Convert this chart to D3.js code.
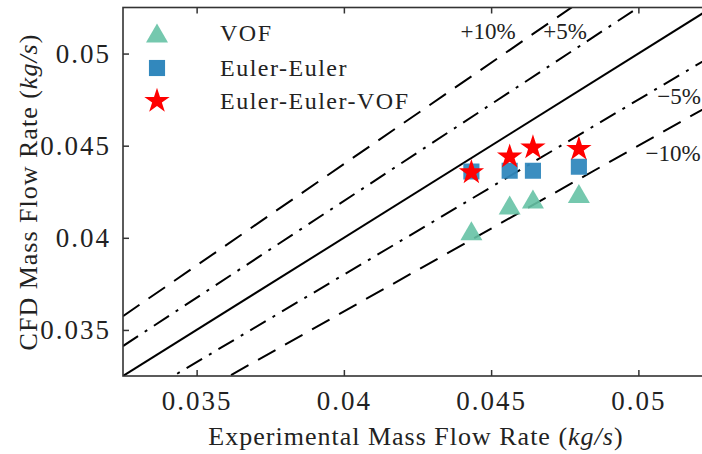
<!DOCTYPE html>
<html>
<head>
<meta charset="utf-8">
<script src="https://cdn.jsdelivr.net/npm/d3@7"></script>
<style>
  body { margin: 0; background: #fff; }
  text { font-family: "Liberation Serif", "DejaVu Serif", serif; fill: #222; }
</style>
</head>
<body>
<svg id="chart" width="702" height="454"></svg>
<script>
// experimental mass flow rate (kg/s)
var expRate = [0.04433, 0.04563, 0.04642, 0.04798];
// CFD results
var vofRate = [0.04038, 0.04178, 0.04210, 0.04241];
var eeRate = [0.04360, 0.04364, 0.04364, 0.04386];
var eevofRate = [0.04355, 0.04440, 0.04490, 0.04482];

var seriesNames = ["VOF", "Euler-Euler", "Euler-Euler-VOF"];
var xTicks = [0.035, 0.04, 0.045, 0.05];
var yTicks = [0.035, 0.04, 0.045, 0.05];
var errLevels = [0.10, 0.05, 0, -0.05, -0.10];
var errLabels = ["+10%", "+5%", "", "\u22125%", "\u221210%"];

var pL = 123, pT = 7.5, pB = 376, pR = 712;
var x = d3.scaleLinear().domain([0.0325, 0.0525]).range([pL, pR]);
var y = d3.scaleLinear().domain([0.0325, 0.0525]).range([pB, pT]);

var svg = d3.select("#chart");

svg.append("clipPath").attr("id", "clip")
  .append("rect")
  .attr("x", pL).attr("y", pT)
  .attr("width", pR - pL).attr("height", pB - pT);

// parity lines
var plot = svg.append("g").attr("clip-path", "url(#clip)");
var dashFor = function(e) {
  if (e === 0) return null;
  if (Math.abs(e) > 0.07) return "20,11";
  return "18,8,3,8";
};
plot.selectAll("line.err")
  .data(errLevels)
  .join("line")
  .classed("err", true)
  .attr("x1", x(0.0325))
  .attr("y1", d => y(0.0325 * (1 + d)))
  .attr("x2", x(0.0525))
  .attr("y2", d => y(0.0525 * (1 + d)))
  .style("stroke", "#000")
  .style("stroke-width", "2px")
  .style("stroke-dasharray", d => dashFor(d));

// markers
var sqSym = d3.symbol().type(d3.symbolSquare).size(260);
var starSym = d3.symbol().type(d3.symbolStar).size(200);
var triPath = function() {
  // matplotlib style triangle, centred on bbox
  var w = 11, h = 9.5;
  return "M0," + (-h) + "L" + w + "," + h + "L" + (-w) + "," + h + "Z";
};

plot.selectAll("path.vof")
  .data(expRate)
  .join("path")
  .classed("vof", true)
  .attr("d", triPath())
  .attr("transform", (d, i) => "translate(" + x(d) + "," + y(vofRate[i]) + ")")
  .style("fill", "#66c2a5").style("opacity", 0.9);

plot.selectAll("path.ee")
  .data(expRate)
  .join("path")
  .classed("ee", true)
  .attr("d", sqSym())
  .attr("transform", (d, i) => "translate(" + x(d) + "," + y(eeRate[i]) + ")")
  .style("fill", "#3288bd").style("opacity", 0.95);

plot.selectAll("path.eevof")
  .data(expRate)
  .join("path")
  .classed("eevof", true)
  .attr("d", starSym())
  .attr("transform", (d, i) => "translate(" + x(d) + "," + y(eevofRate[i]) + ")")
  .style("fill", "#ff0000");

// error labels
var labelPos = [[488, 39], [565, 39], [679, 104], [673, 161]];
var lbls = errLabels.filter(d => d !== "");
svg.selectAll("text.errlbl")
  .data(lbls)
  .join("text")
  .classed("errlbl", true)
  .attr("x", (d, i) => labelPos[i][0])
  .attr("y", (d, i) => labelPos[i][1])
  .attr("text-anchor", "middle")
  .style("font-size", "23px")
  .text(d => d);

// frame and ticks
svg.append("rect")
  .attr("x", pL).attr("y", pT)
  .attr("width", pR - pL).attr("height", pB - pT)
  .style("fill", "none").style("stroke", "#333").style("stroke-width", "1.6px");

var xb = svg.append("g").attr("transform", "translate(0," + pB + ")")
  .call(d3.axisBottom(x).tickValues(xTicks).tickSizeInner(-6).tickSizeOuter(0).tickPadding(15).tickFormat(d3.format("")));
var xt = svg.append("g").attr("transform", "translate(0," + pT + ")")
  .call(d3.axisTop(x).tickValues(xTicks).tickSizeInner(-6).tickSizeOuter(0).tickFormat(""));
var yl = svg.append("g").attr("transform", "translate(" + pL + ",0)")
  .call(d3.axisLeft(y).tickValues(yTicks).tickSizeInner(-6).tickSizeOuter(0).tickPadding(12).tickFormat(d3.format("")));
[xb, xt, yl].forEach(function(g) {
  g.attr("font-family", null).attr("font-size", null);
  g.select(".domain").remove();
  g.selectAll(".tick line").style("stroke", "#333").style("stroke-width", "1.5px");
  g.selectAll(".tick text").style("font-size", "27px").style("letter-spacing", "2px").style("fill", "#222");
});

// axis titles
var xt1 = svg.append("text")
  .attr("x", 416).attr("y", 445)
  .attr("text-anchor", "middle")
  .style("font-size", "26px").style("letter-spacing", "1px");
xt1.append("tspan").text("Experimental Mass Flow Rate (");
xt1.append("tspan").style("font-style", "italic").text("kg/s");
xt1.append("tspan").text(")");

var yt1 = svg.append("text")
  .attr("transform", "translate(37,192) rotate(-90)")
  .attr("text-anchor", "middle")
  .style("font-size", "26px").style("letter-spacing", "1px");
yt1.append("tspan").text("CFD Mass Flow Rate (");
yt1.append("tspan").style("font-style", "italic").text("kg/s");
yt1.append("tspan").text(")");

// legend
var legendY = [33, 68, 101];
var leg = svg.append("g");
leg.append("path").attr("d", triPath()).attr("transform", "translate(157," + legendY[0] + ")")
  .style("fill", "#66c2a5").style("opacity", 0.9);
leg.append("path").attr("d", sqSym()).attr("transform", "translate(157," + legendY[1] + ")")
  .style("fill", "#3288bd");
leg.append("path").attr("d", starSym()).attr("transform", "translate(157," + legendY[2] + ")")
  .style("fill", "#ff0000");
leg.selectAll("text")
  .data(seriesNames)
  .join("text")
  .attr("x", 220)
  .attr("y", (d, i) => legendY[i] + 8)
  .style("font-size", "24px").style("letter-spacing", "1.5px")
  .text(d => d);
</script>
</body>
</html>
